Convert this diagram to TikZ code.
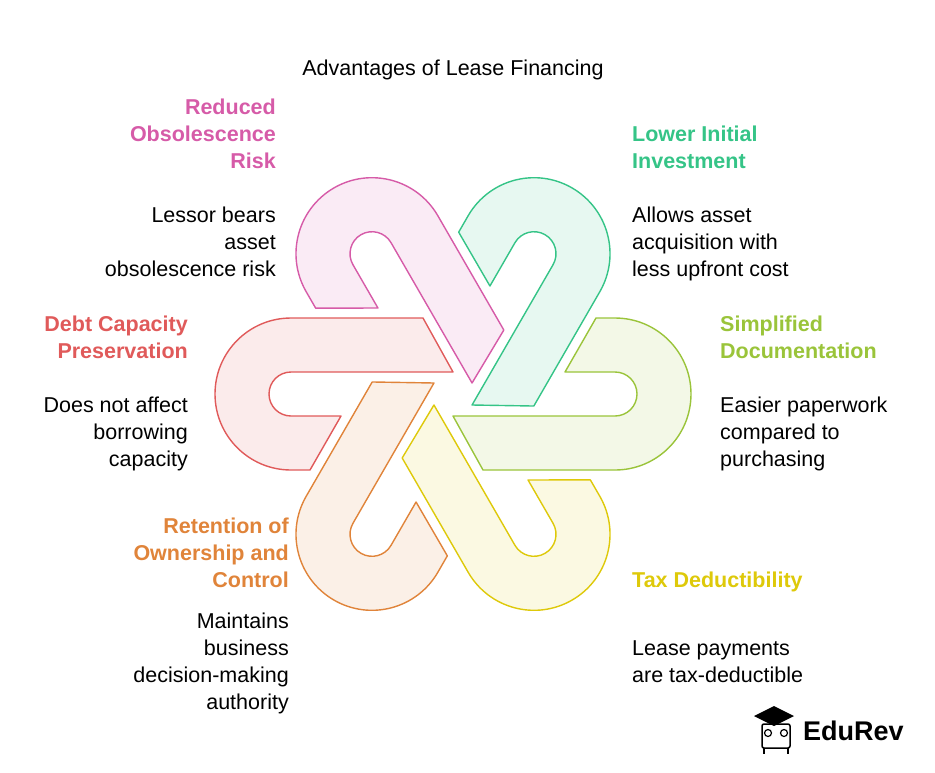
\documentclass[tikz,border=0pt]{standalone}
\usepackage{fontspec}
\setmainfont{Liberation Sans}
\usetikzlibrary{positioning, calc}
\definecolor{cpink}{HTML}{D65BA8}
\definecolor{cgreen}{HTML}{35C487}
\definecolor{clime}{HTML}{9AC43A}
\definecolor{cyellow}{HTML}{DEC90A}
\definecolor{corange}{HTML}{E0843A}
\definecolor{cred}{HTML}{E05A5A}
\newcommand{\hookband}[2]{%
  \draw[band=#2, rotate around={#1:(O)}] ($(O)+(-162,76)$) -- ++(132,0) -- ++(30,-54) -- ++(-162,0)
    arc[start angle=90, end angle=270, radius=22] -- ++(50,0) -- ++(-31,-54) -- ++(-19,0)
    arc[start angle=270, end angle=90, radius=76] -- cycle;}

\begin{document}
\begin{tikzpicture}[x=1pt, y=1pt,
    band/.style={draw=#1, fill=#1!12, line width=1.4pt, line join=round},
    head/.style={font=\fontsize{21.5}{27}\selectfont\bfseries, text=#1, inner sep=0pt},
    body/.style={font=\fontsize{21.5}{27}\selectfont, inner sep=0pt}
]
\useasboundingbox (0,0) rectangle (935,-772);
\coordinate (O) at (453,-394);

\node[body, anchor=north] (title) at (453,-60) {Advantages of Lease Financing};

% interlocked hooks
\hookband{0}{cred}
\hookband{-60}{cpink}
\hookband{-120}{cgreen}
\hookband{180}{clime}
\hookband{120}{cyellow}
\hookband{60}{corange}

% left side
\node[head=cpink, anchor=north east, align=right] (riskh) at (276,-99) {Reduced\\Obsolescence\\Risk};
\node[body, anchor=north east, align=right] (riskb) at (276,-207) {Lessor bears\\asset\\obsolescence risk};
\node[head=cred, anchor=north east, align=right] (debth) at (188,-316) {Debt Capacity\\Preservation};
\node[body, anchor=north east, align=right] (debtb) at (188,-397) {Does not affect\\borrowing\\capacity};
\node[head=corange, anchor=north east, align=right] (ownh) at (289,-518) {Retention of\\Ownership and\\Control};
\node[body, anchor=north east, align=right] (ownb) at (289,-613) {Maintains\\business\\decision-making\\authority};

% right side
\node[head=cgreen, anchor=north west, align=left] (invh) at (632,-126) {Lower Initial\\Investment};
\node[body, anchor=north west, align=left] (invb) at (632,-207) {Allows asset\\acquisition with\\less upfront cost};
\node[head=clime, anchor=north west, align=left] (doch) at (720,-316) {Simplified\\Documentation};
\node[body, anchor=north west, align=left] (docb) at (720,-397) {Easier paperwork\\compared to\\purchasing};
\node[head=cyellow, anchor=north west, align=left] (taxh) at (632,-572) {Tax Deductibility};
\node[body, anchor=north west, align=left] (taxb) at (632,-640) {Lease payments\\are tax-deductible};

% logo
\node[font=\fontsize{27}{30}\selectfont\bfseries, inner sep=0pt, anchor=west] (logo) at (803,-731) {EduRev};
\fill[black] (754,-716) -- (774,-706) -- (794,-716) -- (774,-726) -- cycle;
\draw[line width=1.5pt, rounded corners=2pt] (762,-724) rectangle (790,-748);
\draw[line width=1.2pt] (768,-733) circle (3.5) (784,-733) circle (3.5);
\draw[line width=1.5pt] (764,-748) -- (764,-754) (788,-748) -- (788,-754);
\end{tikzpicture}
\end{document}
